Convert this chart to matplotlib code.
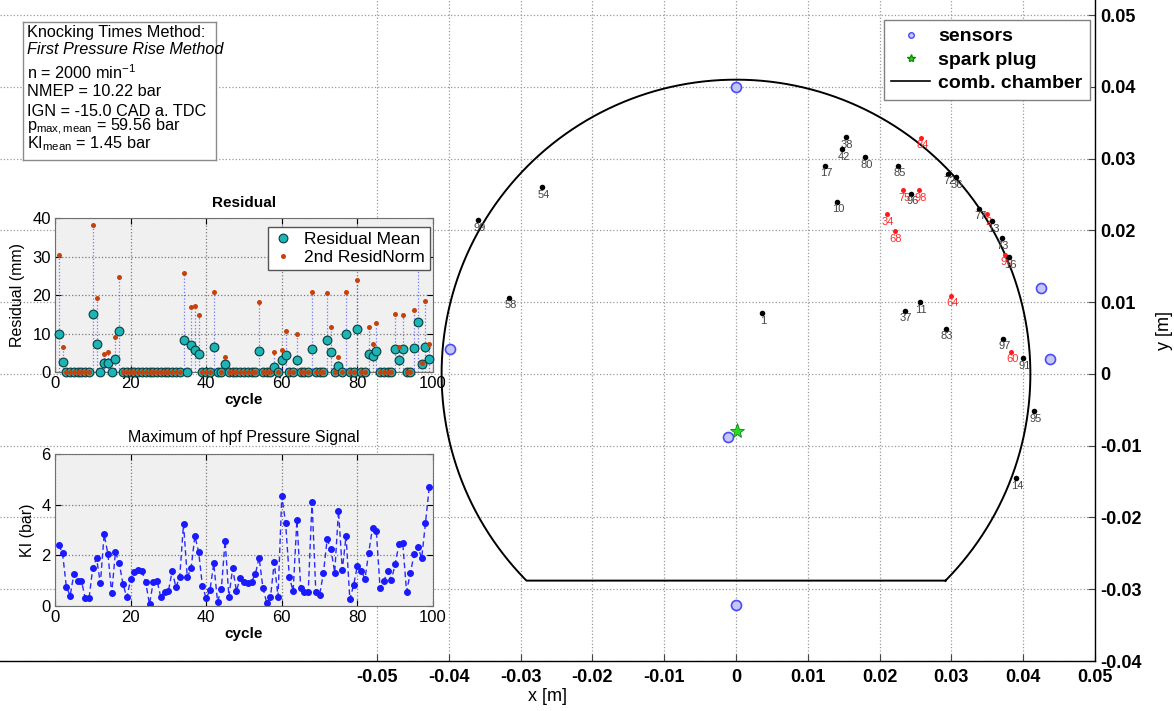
import numpy as np
import matplotlib
matplotlib.use("Agg")
import matplotlib.pyplot as plt
from matplotlib.lines import Line2D

plt.rcParams['font.family'] = ['Liberation Sans', 'DejaVu Sans']
plt.rcParams['mathtext.fontset'] = 'custom'
plt.rcParams['mathtext.rm'] = 'Liberation Sans'
plt.rcParams['mathtext.it'] = 'Liberation Sans:italic'
plt.rcParams['mathtext.bf'] = 'Liberation Sans:bold'

# ---------------- data ----------------
# sensor and spark plug positions [m]
sensor_x = [0.0, -0.0398, 0.0, -0.0011, 0.0425, 0.0437]
sensor_y = [0.0400, 0.0035, -0.0322, -0.0088, 0.0120, 0.0021]
spark_x = [0.0001]
spark_y = [-0.0079]
chamber_radius = 0.041
chamber_cut = -0.0288

# located knock origins per cycle
knock_labels = ['38', '42', '80', '17', '85', '84', '10', '75', '96', '98', '34',
                '68', '72', '36', '77', '2', '13', '73', '90', '16', '54', '99',
                '58', '1', '37', '11', '64', '83', '97', '60', '91', '95', '14']
knock_x = [0.0153, 0.0148, 0.0180, 0.0124, 0.0226, 0.0258, 0.0141, 0.0233, 0.0244,
           0.0255, 0.0210, 0.0221, 0.0295, 0.0306, 0.0338, 0.0350, 0.0357, 0.0370,
           0.0375, 0.0380, -0.0270, -0.0359, -0.0316, 0.0036, 0.0235, 0.0256,
           0.0299, 0.0292, 0.0372, 0.0383, 0.0400, 0.0415, 0.0390]
knock_y = [0.0330, 0.0313, 0.0302, 0.0290, 0.0290, 0.0329, 0.0240, 0.0256, 0.0251,
           0.0256, 0.0223, 0.0199, 0.0279, 0.0274, 0.0230, 0.0223, 0.0213, 0.0189,
           0.0166, 0.0163, 0.0260, 0.0214, 0.0106, 0.0085, 0.0088, 0.0100,
           0.0109, 0.0063, 0.0049, 0.0031, 0.0022, -0.0052, -0.0145]
knock_red = ['84', '75', '98', '34', '68', '2', '90', '64', '60']

# residual per cycle
cycles = list(range(1, 100))
resid_cycles = [1, 2, 10, 11, 13, 14, 16, 17, 34, 36, 37, 38, 42, 45, 54, 58, 60, 61,
                64, 68, 72, 73, 75, 77, 80, 83, 84, 85, 90, 91, 92, 95, 96, 97, 98, 99]
resid_mean = [10.0, 2.7, 15.0, 7.3, 2.4, 2.3, 3.4, 10.7, 8.3, 7.0, 5.7, 4.8, 6.4, 2.2,
              5.5, 1.4, 3.1, 4.4, 3.1, 6.1, 8.3, 5.3, 1.6, 10.0, 11.2, 4.7, 4.2, 5.5,
              6.0, 3.1, 6.0, 6.3, 12.9, 2.1, 6.6, 3.4]
resid_norm = [30.4, 6.4, 38.2, 19.3, 4.8, 5.3, 9.2, 24.8, 25.6, 16.9, 17.1, 14.8, 20.9,
              4.0, 18.3, 5.1, 5.8, 10.7, 9.9, 20.9, 20.4, 11.8, 4.0, 20.7, 23.9, 11.6,
              7.2, 12.6, 15.0, 6.4, 14.8, 16.1, 31.0, 2.3, 18.4, 7.3]
norm_missing = [12, 15, 35, 43]

# maximum of high-pass filtered pressure per cycle [bar]
ki_max = [2.41, 2.08, 0.76, 0.41, 1.26, 0.99, 0.99, 0.30, 0.30, 1.51,
          1.88, 0.89, 2.83, 2.05, 0.50, 2.14, 1.68, 0.86, 0.34, 1.05,
          1.36, 1.42, 1.38, 0.93, 0.07, 0.96, 1.00, 0.34, 0.57, 0.59,
          1.38, 0.74, 1.16, 3.24, 1.13, 1.49, 2.76, 2.14, 0.79, 0.30,
          0.63, 1.68, 0.17, 0.66, 2.58, 0.37, 1.49, 0.59, 1.12, 0.93,
          0.92, 0.96, 1.26, 1.91, 0.72, 0.13, 0.34, 1.72, 0.37, 4.34,
          3.29, 1.13, 0.59, 3.39, 0.72, 0.57, 0.57, 4.12, 0.57, 0.43,
          1.29, 2.63, 2.24, 1.32, 3.76, 1.42, 2.76, 0.26, 0.83, 1.58,
          1.38, 1.07, 2.11, 3.09, 2.96, 0.70, 0.99, 1.38, 1.03, 1.66,
          2.45, 2.47, 0.57, 1.29, 2.04, 2.34, 1.88, 3.26, 4.68]

info_lines = ["Knocking Times Method:",
              "First Pressure Rise Method",
              "n = 2000 min$^{-1}$",
              "NMEP = 10.22 bar",
              "IGN = -15.0 CAD a. TDC",
              "p$_{\\rm max,mean}$ = 59.56 bar",
              "KI$_{\\rm mean}$ = 1.45 bar"]

xtick_vals = [-0.05, -0.04, -0.03, -0.02, -0.01, 0.0, 0.01, 0.02, 0.03, 0.04, 0.05]
ytick_vals = [-0.04, -0.03, -0.02, -0.01, 0.0, 0.01, 0.02, 0.03, 0.04, 0.05]

# ---------------- figure ----------------
W, H = 1174, 711
fig = plt.figure(figsize=(W / 100, H / 100), dpi=100)


def fx(px):
    return px / W


def fy(py):
    return 1 - py / H


def tick_text(v):
    return '0' if v == 0 else f'{v:g}'


# main geometry axes
ax = fig.add_axes([0, fy(661), fx(1095), 661 / H])
ax.set_xlim(-0.1025, 0.05)
ax.set_ylim(-0.04, 0.0521)
ax.set_xticks(xtick_vals)
ax.set_xticklabels([tick_text(v) for v in xtick_vals], fontweight='bold', fontsize=13)
ax.yaxis.tick_right()
ax.set_yticks(ytick_vals)
ax.set_yticklabels([tick_text(v) for v in ytick_vals], fontweight='bold', fontsize=13)
ax.tick_params(axis='both', direction='in', length=5, width=0.8, color='#444')
ax.tick_params(axis='x', pad=6)
ax.tick_params(axis='y', pad=4)
ax.grid(True, linestyle=':', color='#9a9a9a', linewidth=0.9)
ax.set_axisbelow(True)
for s in ('top', 'left'):
    ax.spines[s].set_visible(False)
for s in ('bottom', 'right'):
    ax.spines[s].set_linewidth(1.0)
ax.set_xlabel('x [m]', fontsize=13, labelpad=1)
ax.yaxis.set_label_position('right')
ax.set_ylabel('y [m]', fontsize=13, labelpad=10)

# combustion chamber contour: circle cut flat at the bottom
theta0 = np.arcsin(chamber_cut / chamber_radius)
th = np.linspace(theta0, np.pi - theta0, 500)
cx = np.append(chamber_radius * np.cos(th), chamber_radius * np.cos(theta0))
cy = np.append(chamber_radius * np.sin(th), chamber_radius * np.sin(theta0))
ax.plot(cx, cy, color='black', lw=1.4, zorder=3)

ax.plot(sensor_x, sensor_y, 'o', ms=7.2, mfc='#c6c6f2', mec='#4a4aff', mew=1.2, zorder=5)
ax.plot(spark_x, spark_y, '*', ms=11, mfc='#22dd22', mec='#118811', mew=0.6, zorder=6)

for lab, x, y in zip(knock_labels, knock_x, knock_y):
    red = lab in knock_red
    ax.plot(x, y, 'o', ms=3.6 if red else 4.0, color='#ff1a1a' if red else 'black',
            mew=0, zorder=4)
    ax.annotate(lab, (x, y), xytext=(1, -5.5), textcoords='offset points',
                ha='center', va='center', fontsize=8,
                color='#ff2a2a' if red else '#444444', zorder=4)

leg_handles = [Line2D([], [], ls='none', marker='o', ms=4, mfc='#c6c6f2', mec='#4a4aff'),
               Line2D([], [], ls='none', marker='*', ms=6, mfc='#22dd22', mec='#118811'),
               Line2D([], [], color='black', lw=1.2)]
leg = ax.legend(leg_handles, ['sensors', 'spark plug', 'comb. chamber'],
                loc='upper right', bbox_to_anchor=(fx(1090), fy(20)),
                bbox_transform=fig.transFigure, borderaxespad=0,
                prop={'weight': 'bold', 'size': 14}, fancybox=False,
                framealpha=1, edgecolor='#808080', handlelength=2.0,
                handletextpad=0.4, labelspacing=0.3, borderpad=0.4)
leg.get_frame().set_linewidth(1.0)

# info text box
axt = fig.add_axes([fx(23), fy(160), fx(216 - 23), (160 - 22) / H])
axt.set_facecolor('white')
axt.set_xticks([])
axt.set_yticks([])
for s in axt.spines.values():
    s.set_color('#8a8a8a')
    s.set_linewidth(1.0)
line_y = [33, 50, 73, 91, 111, 127, 144]
for i, (txt, py) in enumerate(zip(info_lines, line_y)):
    fig.text(fx(27), fy(py), txt, fontsize=11.7, va='center', ha='left',
             style='italic' if i == 1 else 'normal')

# residual inset
axr = fig.add_axes([fx(55), fy(372), fx(433 - 55), (372 - 218) / H])
axr.set_facecolor('#f0f0f0')
axr.set_xlim(0, 100)
axr.set_ylim(0, 40)
axr.set_xticks([0, 20, 40, 60, 80, 100])
axr.set_yticks([0, 10, 20, 30, 40])
stem_top = [max(a, b) for a, b in zip(resid_mean, resid_norm)]
axr.vlines(resid_cycles, 0, stem_top, colors='#4040ff', linestyles=':', lw=0.9,
           alpha=0.7, zorder=2)
mean_full = []
norm_cyc, norm_full = [], []
for c in cycles:
    if c in resid_cycles:
        k = resid_cycles.index(c)
        mean_full.append(resid_mean[k])
        norm_cyc.append(c)
        norm_full.append(resid_norm[k])
    else:
        mean_full.append(0.0)
        if c not in norm_missing:
            norm_cyc.append(c)
            norm_full.append(0.0)
h1, = axr.plot(cycles, mean_full, 'o', ms=6.3, mfc='#1cb4b4', mec='#073c3c', mew=0.8,
               clip_on=False, zorder=3)
h2, = axr.plot(norm_cyc, norm_full, 'o', ms=3.6, color='#c8400c', mew=0,
               clip_on=False, zorder=4)
axr.grid(True, linestyle=':', color='#7a7a7a', linewidth=0.9)
axr.set_axisbelow(True)
axr.tick_params(direction='in', length=4, labelsize=12, top=True, right=True, pad=3)
for s in axr.spines.values():
    s.set_color('#707070')
axr.set_title('Residual', fontsize=11, fontweight='bold', pad=8)
axr.set_xlabel('cycle', fontsize=11, fontweight='bold', labelpad=1)
axr.set_ylabel('Residual (mm)', fontsize=11.5, labelpad=5)
lr = axr.legend([h1, h2], ['Residual Mean', '2nd ResidNorm'], loc='upper right',
                bbox_to_anchor=(1 - 3 / 378, 1 - 9 / 154), borderaxespad=0,
                fontsize=12.5, fancybox=False, framealpha=1, edgecolor='#555555',
                handlelength=1.2, handletextpad=0.6, labelspacing=0.15, borderpad=0.3)
lr.get_frame().set_linewidth(1.0)

# knock intensity inset
axk = fig.add_axes([fx(55), fy(606), fx(433 - 55), (606 - 454) / H])
axk.set_facecolor('#f0f0f0')
axk.plot(cycles, ki_max, '--', color='#2a2aff', lw=1.0, marker='o', ms=4.0,
         mfc='#1a1aff', mec='#1a1aff', dashes=(4, 2.5))
axk.set_xlim(0, 100)
axk.set_ylim(0, 6)
axk.set_xticks([0, 20, 40, 60, 80, 100])
axk.set_yticks([0, 2, 4, 6])
axk.grid(True, linestyle=':', color='#7a7a7a', linewidth=0.9)
axk.set_axisbelow(True)
axk.tick_params(direction='in', length=4, labelsize=12, top=True, right=True, pad=3)
for s in axk.spines.values():
    s.set_color('#707070')
axk.set_title('Maximum of hpf Pressure Signal', fontsize=11.5, pad=9)
axk.set_xlabel('cycle', fontsize=11, fontweight='bold', labelpad=1)
axk.set_ylabel('KI (bar)', fontsize=11.5, labelpad=5)

fig.savefig('out.png', dpi=100)
